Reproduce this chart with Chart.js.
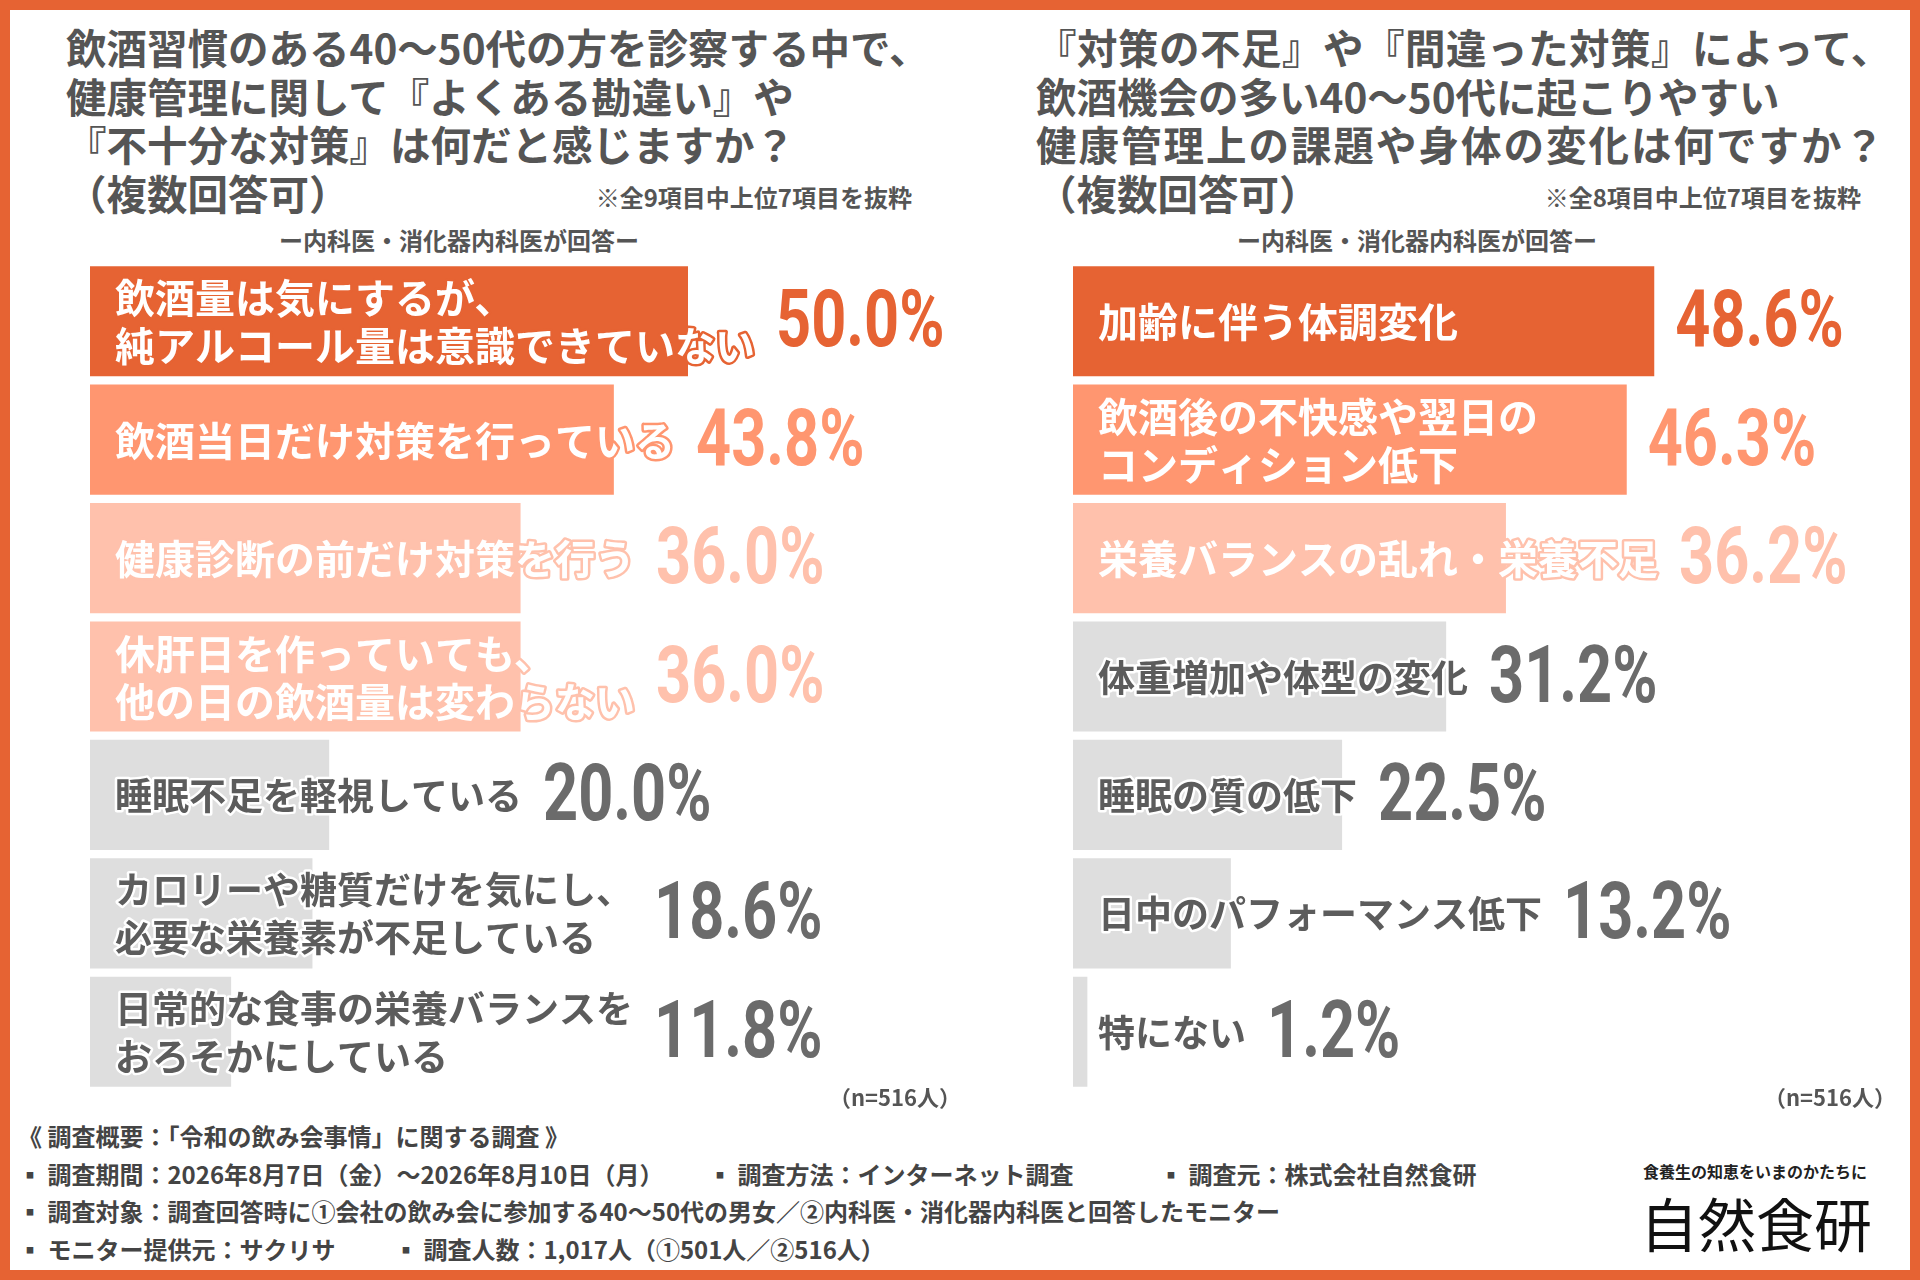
<!DOCTYPE html>
<html lang="ja">
<head>
<meta charset="utf-8">
<title>飲酒習慣と健康管理</title>
<script src="https://cdn.jsdelivr.net/npm/chart.js@4.4.1/dist/chart.umd.min.js"></script>
<style>
  html, body { margin: 0; padding: 0; background: #fff; }
  #page {
    position: relative; width: 1920px; height: 1280px; box-sizing: border-box;
    border: 10px solid #E66333; overflow: hidden;
    font-family: "Noto Sans CJK JP", "Noto Sans", sans-serif; font-weight: 700; color: #555;
  }
  .abs { position: absolute; white-space: nowrap; }
  .title { font-size: 40.5px; line-height: 48.5px; color: #555; }
  .note { font-size: 24px; line-height: 30px; color: #555; }
  .nsize { font-size: 22px; line-height: 30px; color: #555; }
  .foot { font-size: 24px; line-height: 30px; color: #444; left: 8px; width: 1600px; height: 30px; }
  .foot span { position: absolute; top: 0; }
  canvas { position: absolute; }
</style>
</head>
<body>
<div id="page">
  <div class="abs title" style="left:56px; top:13px;">
    飲酒習慣のある40〜50代の方を診察する中で、<br>
    健康管理に関して『よくある勘違い』や<br>
    『不十分な対策』は何だと感じますか？<br>
    （複数回答可）
  </div>
  <div class="abs note" style="right:998px; top:172px;">※全9項目中上位7項目を抜粋</div>
  <div class="abs note" style="left:269px; top:215px;">ー内科医・消化器内科医が回答ー</div>

  <div class="abs title" style="left:1026px; top:13px;">
    <span style="letter-spacing:0.5px">『対策の不足』や『間違った対策』によって、</span><br>
    飲酒機会の多い40〜50代に起こりやすい<br>
    <span style="letter-spacing:2px">健康管理上の課題や身体の変化は何ですか？</span><br>
    （複数回答可）
  </div>
  <div class="abs note" style="right:49px; top:172px;">※全8項目中上位7項目を抜粋</div>
  <div class="abs note" style="left:1227px; top:215px;">ー内科医・消化器内科医が回答ー</div>

  <canvas id="leftChart" width="897" height="829" style="left:80px; top:252px;"></canvas>
  <canvas id="rightChart" width="813" height="829" style="left:1063px; top:252px;"></canvas>

  <div class="abs nsize" style="right:949px; top:1071px;">（n=516人）</div>
  <div class="abs nsize" style="right:14px; top:1071px;">（n=516人）</div>

  <div class="abs foot" style="top:1111px;"><span style="left:0">《 調査概要：「令和の飲み会事情」に関する調査 》</span></div>
  <div class="abs foot" style="top:1149px;">
    <span style="left:0">▪ 調査期間：2026年8月7日（金）〜2026年8月10日（月）</span>
    <span style="left:690px">▪ 調査方法：インターネット調査</span>
    <span style="left:1141px">▪ 調査元：株式会社自然食研</span>
  </div>
  <div class="abs foot" style="top:1186px;"><span style="left:0">▪ 調査対象：調査回答時に①会社の飲み会に参加する40〜50代の男女／②内科医・消化器内科医と回答したモニター</span></div>
  <div class="abs foot" style="top:1224px;">
    <span style="left:0">▪ モニター提供元：サクリサ</span>
    <span style="left:376px">▪ 調査人数：1,017人（①501人／②516人）</span>
  </div>

  <div class="abs" style="left:1633px; top:1149px; font-size:16px; line-height:24px; color:#222;">食養生の知恵をいまのかたちに</div>
  <div class="abs" style="left:1630px; top:1177px; font-size:58px; line-height:70px; font-weight:400; color:#111;">自然食研</div>
</div>

<script>
'use strict';

// left: よくある勘違い・不十分な対策
const leftLabels = [
  ['飲酒量は気にするが、', '純アルコール量は意識できていない'],
  ['飲酒当日だけ対策を行っている'],
  ['健康診断の前だけ対策を行う'],
  ['休肝日を作っていても、', '他の日の飲酒量は変わらない'],
  ['睡眠不足を軽視している'],
  ['カロリーや糖質だけを気にし、', '必要な栄養素が不足している'],
  ['日常的な食事の栄養バランスを', 'おろそかにしている'],
];
const leftValues = [50.0, 43.8, 36.0, 36.0, 20.0, 18.6, 11.8];

// right: 起こりやすい課題・身体の変化
const rightLabels = [
  ['加齢に伴う体調変化'],
  ['飲酒後の不快感や翌日の', 'コンディション低下'],
  ['栄養バランスの乱れ・栄養不足'],
  ['体重増加や体型の変化'],
  ['睡眠の質の低下'],
  ['日中のパフォーマンス低下'],
  ['特にない'],
];
const rightValues = [48.6, 46.3, 36.2, 31.2, 22.5, 13.2, 1.2];

const DARK = '#E66333', MID = '#FF9670', PALE = '#FFC1AC', GREY = '#DEDEDE';
const leftColors  = [DARK, MID, PALE, PALE, GREY, GREY, GREY];
const rightColors = [DARK, MID, PALE, GREY, GREY, GREY, GREY];

const PX_PER_PCT = 11.96;

const barText = {
  id: 'barText',
  afterDatasetsDraw(chart) {
    const ctx = chart.ctx;
    const ds = chart.data.datasets[0];
    chart.getDatasetMeta(0).data.forEach((bar, i) => {
      const lines = chart.data.labels[i];
      const color = ds.backgroundColor[i];
      const grey = color === GREY;
      const x0 = bar.base + 25;
      ctx.save();
      ctx.font = `bold ${grey ? 37 : 40}px "Noto Sans CJK JP"`;
      ctx.textBaseline = 'middle';
      ctx.textAlign = 'left';
      ctx.lineJoin = 'round';
      ctx.lineWidth = 5;
      let w = 0;
      lines.forEach((t, k) => {
        const y = bar.y + 1 + (k - (lines.length - 1) / 2) * 48;
        ctx.strokeStyle = grey ? '#fff' : color;
        ctx.strokeText(t, x0, y);
        ctx.fillStyle = grey ? '#5c5c5c' : '#fff';
        ctx.fillText(t, x0, y);
        w = Math.max(w, ctx.measureText(t).width);
      });
      const vx = Math.max(bar.x, x0 + w) + 21;
      const size = 79;
      ctx.translate(vx, bar.y - 3 + size * 0.711 / 2);
      ctx.scale(0.775, 1);
      ctx.font = `bold ${size}px Roboto`;
      ctx.textBaseline = 'alphabetic';
      ctx.fillStyle = grey ? '#6b6b6b' : color;
      ctx.fillText(ds.data[i].toFixed(1) + '%', 0, 0);
      ctx.restore();
    });
  },
};

function makeChart(id, labels, values, colors) {
  const el = document.getElementById(id);
  return new Chart(el, {
    type: 'bar',
    data: {
      labels,
      datasets: [{
        data: values,
        backgroundColor: colors,
        borderWidth: 0,
        categoryPercentage: 1,
        barPercentage: 0.93,
      }],
    },
    options: {
      indexAxis: 'y',
      responsive: false,
      animation: false,
      devicePixelRatio: 1,
      layout: { padding: 0 },
      events: [],
      scales: {
        x: { display: false, min: 0, max: el.width / PX_PER_PCT },
        y: { display: false },
      },
      plugins: { legend: { display: false }, tooltip: { enabled: false } },
    },
    plugins: [barText],
  });
}

(document.fonts ? document.fonts.ready : Promise.resolve()).then(() => {
  makeChart('leftChart', leftLabels, leftValues, leftColors);
  makeChart('rightChart', rightLabels, rightValues, rightColors);
});
</script>
</body>
</html>
